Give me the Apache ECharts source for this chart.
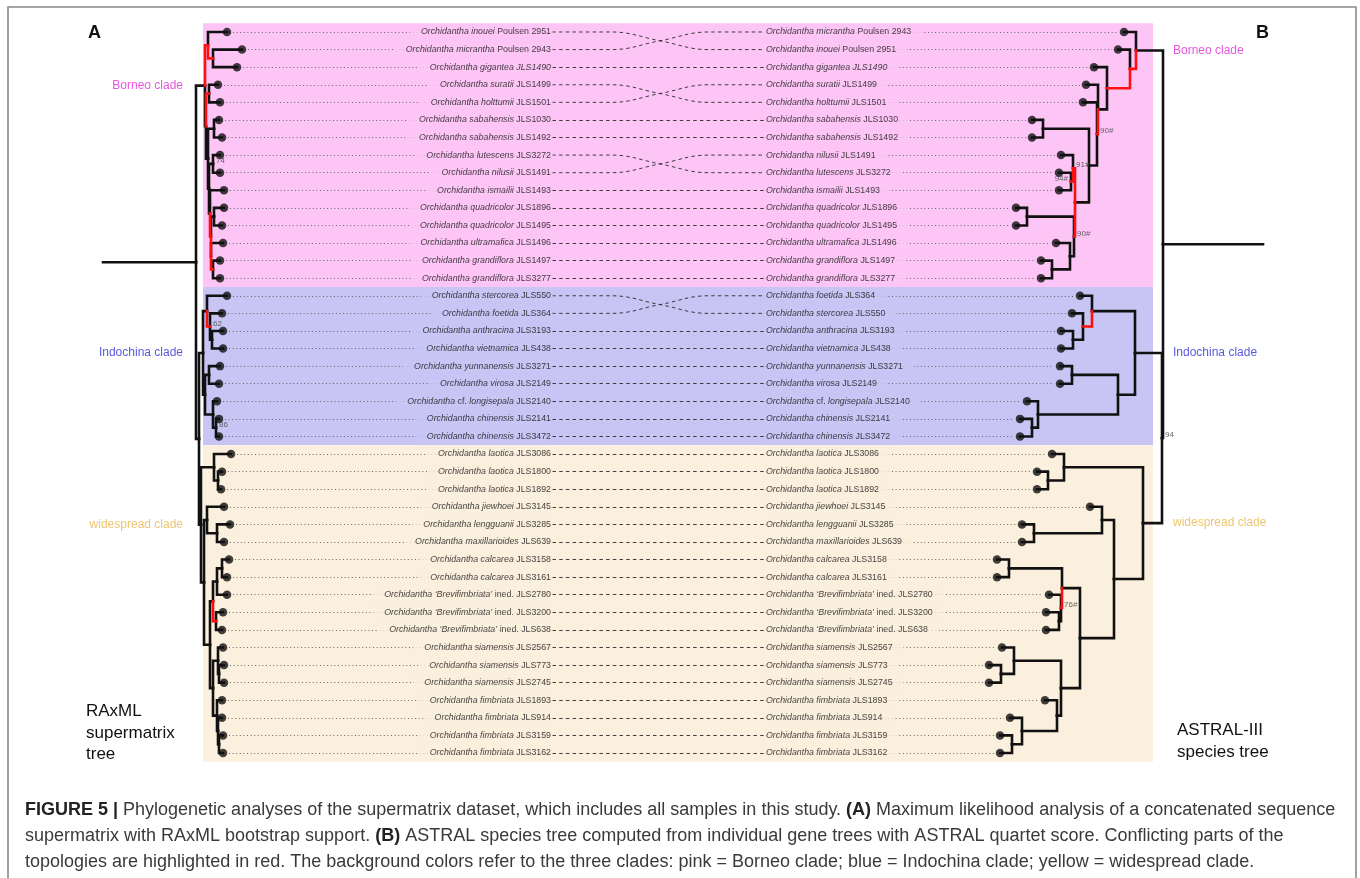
<!DOCTYPE html>
<html>
<head>
<meta charset="utf-8">
<script src="https://cdn.jsdelivr.net/npm/echarts@6/dist/echarts.min.js"></script>
<style>
html,body{margin:0;padding:0;background:#fff}
#chart{width:1360px;height:878px}
</style>
</head>
<body>
<div id="chart"></div>
<script>
// ---- Samples (text between * is set in italics) ----
const sampleKeys = ['ino','mic','gig','sur','hol','sab1030','sab1492','lut','nil','ism','qua1896','qua1495','ult','gra1497','gra3277',
  'ste','foe','ant','vie','yun','vir','lon','chi2141','chi3472',
  'lao3086','lao1800','lao1892','jie','len','max','cal3158','cal3161','bre2780','bre3200','bre638','sia2567','sia773','sia2745','fim1893','fim914','fim3159','fim3162'];
const sampleLabels = ['*Orchidantha inouei* Poulsen 2951','*Orchidantha micrantha* Poulsen 2943','*Orchidantha gigantea JLS1490*','*Orchidantha suratii* JLS1499','*Orchidantha holttumii* JLS1501',
  '*Orchidantha sabahensis* JLS1030','*Orchidantha sabahensis* JLS1492','*Orchidantha lutescens* JLS3272','*Orchidantha nilusii* JLS1491','*Orchidantha ismailii* JLS1493',
  '*Orchidantha quadricolor* JLS1896','*Orchidantha quadricolor* JLS1495','*Orchidantha ultramafica* JLS1496','*Orchidantha grandiflora* JLS1497','*Orchidantha grandiflora* JLS3277',
  '*Orchidantha stercorea* JLS550','*Orchidantha foetida* JLS364','*Orchidantha anthracina* JLS3193','*Orchidantha vietnamica* JLS438','*Orchidantha yunnanensis* JLS3271',
  '*Orchidantha virosa* JLS2149','*Orchidantha* cf. *longisepala* JLS2140','*Orchidantha chinensis* JLS2141','*Orchidantha chinensis* JLS3472',
  '*Orchidantha laotica* JLS3086','*Orchidantha laotica* JLS1800','*Orchidantha laotica* JLS1892','*Orchidantha jiewhoei* JLS3145','*Orchidantha lengguanii* JLS3285',
  '*Orchidantha maxillarioides* JLS639','*Orchidantha calcarea* JLS3158','*Orchidantha calcarea* JLS3161',
  '*Orchidantha \u2018Brevifimbriata\u2019* ined. JLS2780','*Orchidantha \u2018Brevifimbriata\u2019* ined. JLS3200','*Orchidantha \u2018Brevifimbriata\u2019* ined. JLS638',
  '*Orchidantha siamensis* JLS2567','*Orchidantha siamensis* JLS773','*Orchidantha siamensis* JLS2745',
  '*Orchidantha fimbriata* JLS1893','*Orchidantha fimbriata* JLS914','*Orchidantha fimbriata* JLS3159','*Orchidantha fimbriata* JLS3162'];

// ---- Clades (background bands) ----
const cladeNames = ['Borneo clade', 'Indochina clade', 'widespread clade'];
const cladeSizes = [15, 9, 18];
const cladeAnchorsLeft = ['B0', 'Ind', 'W'];
const cladeAnchorsRight = ['N0', 'Ind', 'W'];

// ---- Tip order of each tree (top to bottom) ----
const leftOrder = ['ino','mic','gig','sur','hol','sab1030','sab1492','lut','nil','ism','qua1896','qua1495','ult','gra1497','gra3277',
  'ste','foe','ant','vie','yun','vir','lon','chi2141','chi3472',
  'lao3086','lao1800','lao1892','jie','len','max','cal3158','cal3161','bre2780','bre3200','bre638','sia2567','sia773','sia2745','fim1893','fim914','fim3159','fim3162'];
const rightOrder = ['mic','ino','gig','sur','hol','sab1030','sab1492','nil','lut','ism','qua1896','qua1495','ult','gra1497','gra3277',
  'foe','ste','ant','vie','yun','vir','lon','chi2141','chi3472',
  'lao3086','lao1800','lao1892','jie','len','max','cal3158','cal3161','bre2780','bre3200','bre638','sia2567','sia773','sia2745','fim1893','fim914','fim3159','fim3162'];
// Right-hand row joined to each left-hand row by a connector
const linkRows = [1,0,2,4,3,5,6,8,7,9,10,11,12,13,14,16,15,17,18,19,20,21,22,23,
  24,25,26,27,28,29,30,31,32,33,34,35,36,37,38,39,40,41];

// ---- RAxML supermatrix tree (A): tip depths in left order, clades [id, depth, children, conflict] ----
const leftTipDepth = [31,46,41,22,24,23,26,24,24,28,28,26,27,24,24,
  31,26,27,27,24,23,21,23,23,
  35,26,25,28,34,28,33,31,31,27,26,27,28,28,26,26,27,27];
const leftClades = [
  ['MG',17,['mic','gig'],1], ['A',12,['ino','MG'],1],
  ['SH',13,['sur','hol'],1], ['SAB',18,['sab1030','sab1492'],0], ['LN',17,['lut','nil'],0],
  ['Q',18,['qua1896','qua1495'],0], ['G',17,['gra1497','gra3277'],1], ['R6',15,['ult','G'],1],
  ['R5',15,['Q','R6'],1], ['R4',14,['ism','R5'],0], ['R3',13,['LN','R4'],0], ['R2',12,['SAB','R3'],0],
  ['Brest',10,['SH','R2'],0], ['B0',9,['A','Brest'],0],
  ['AV',16,['ant','vie'],0], ['FAV',14,['foe','AV'],1], ['S1',11,['ste','FAV'],0],
  ['YV',13,['yun','vir'],0], ['CC',20,['chi2141','chi3472'],0], ['LC',17,['lon','CC'],0],
  ['YVLC',9,['YV','LC'],0], ['Ind',7,['S1','YVLC'],0],
  ['L2',22,['lao1800','lao1892'],0], ['L',18,['lao3086','L2'],0],
  ['LM',21,['len','max'],0], ['JLM',11,['jie','LM'],0],
  ['C',26,['cal3158','cal3161'],0], ['C2',21,['C','bre2780'],0], ['B2',20,['bre3200','bre638'],1], ['CB',17,['C2','B2'],0],
  ['S2',23,['sia773','sia2745'],0], ['SI',22,['sia2567','S2'],0],
  ['F3',23,['fim3159','fim3162'],0], ['F2',22,['fim914','F3'],0], ['FI',21,['fim1893','F2'],0],
  ['SF',17,['SI','FI'],0], ['CBSF',14,['CB','SF'],0], ['W2',8,['JLM','CBSF'],0], ['W',5,['L','W2'],0],
  ['IW',3,['Ind','W'],0], ['root',0,['B0','IW'],0]
];
const leftSupport = [['LN','74','right'], ['FAV','62','right'], ['CC','86','right']];

// ---- ASTRAL-III species tree (B) ----
const rightTipDepth = [39,45,69,77,80,131,131,102,104,104,147,147,107,122,122,
  83,91,102,102,103,103,136,143,143,
  111,126,126,73,141,141,166,166,114,117,117,161,174,174,118,153,163,163];
const rightClades = [
  ['SAB',120,['sab1030','sab1492'],0], ['LI',92,['lut','ism'],1], ['NL',90,['nil','LI'],1],
  ['Q',136,['qua1896','qua1495'],0], ['G',111,['gra1497','gra3277'],0], ['UG',93,['ult','G'],0],
  ['QUG',89,['Q','UG'],1], ['P',88,['NL','QUG'],0], ['S',74,['SAB','P'],0],
  ['H',66,['hol','S'],1], ['T',65,['sur','H'],0], ['N2',56,['gig','T'],1], ['N1',33,['ino','N2'],1], ['N0',27,['mic','N1'],0],
  ['AV',90,['ant','vie'],0], ['SAV',80,['ste','AV'],1], ['F',71,['foe','SAV'],0],
  ['YV',91,['yun','vir'],0], ['CC',131,['chi2141','chi3472'],0], ['LC',125,['lon','CC'],0],
  ['YVLC',45,['YV','LC'],0], ['Ind',28,['F','YVLC'],0],
  ['L2',115,['lao1800','lao1892'],0], ['L',99,['lao3086','L2'],0],
  ['LM',129,['len','max'],0], ['JLM',61,['jie','LM'],0],
  ['C',154,['cal3158','cal3161'],0], ['B2',104,['bre3200','bre638'],0], ['BR',102,['bre2780','B2'],1], ['CB',101,['C','BR'],0],
  ['S2',162,['sia773','sia2745'],0], ['SI',149,['sia2567','S2'],0],
  ['F3',151,['fim3159','fim3162'],0], ['F2',141,['fim914','F3'],0], ['FI',106,['fim1893','F2'],0],
  ['SF',102,['SI','FI'],0], ['CBSF',83,['CB','SF'],0], ['JC',49,['JLM','CBSF'],0], ['W',20,['L','JC'],0],
  ['IW',1,['Ind','W'],0], ['root',0,['N0','IW'],0]
];
const rightSupport = [['H','90#','right'], ['NL','91#','right'], ['LI','94#','left'], ['QUG','90#','right'], ['BR','76#','right'], ['IW','94','right']];

// ---- styling ----
const FONT = '"Liberation Sans", Arial, Helvetica, sans-serif';
const bandColors = ['#fdc5f6', '#c8c5f5', '#fbefdd'];
const cladeTextColors = ['#e22ad8', '#2e2ed6', '#e9b74a'];
const RED = '#ff1010', INK = '#111';
const NROWS = leftOrder.length;
const ROW_TOP = 23.2, ROW_H = 738.6;
const LEFT_LABEL_END = 551, RIGHT_LABEL_START = 766;
const BAND_X0 = 203, BAND_X1 = 1153;

const labelOf = {};
sampleKeys.forEach((k, i) => { labelOf[k] = sampleLabels[i]; });
function rich(s) {
  return s.split('*').map((seg, i) => seg ? '{' + (i % 2 ? 'i' : 'n') + '|' + seg + '}' : '').join('');
}
const bandOfRow = [];
cladeSizes.forEach((n, c) => { for (let i = 0; i < n; i++) bandOfRow.push(c); });

function layoutTree(order, tipDepth, clades) {
  const pos = {};
  order.forEach((k, i) => { pos[k] = { x: tipDepth[i], y: i, red: 0 }; });
  clades.forEach(([id, d, kids, red]) => {
    pos[id] = { x: d, y: (pos[kids[0]].y + pos[kids[kids.length - 1]].y) / 2, kids, red };
  });
  return pos;
}
function treeEdges(pos, clades, stemFrom) {
  const black = [], red = [];
  clades.forEach(([id, d, kids]) => {
    const p = pos[id];
    kids.forEach(k => {
      const c = pos[k];
      const item = { coords: [[p.x, p.y], [p.x, c.y], [c.x, c.y]] };
      (c.red ? red : black).push(item);
    });
  });
  const r = pos['root'];
  black.push({ coords: [[stemFrom, r.y], [r.x, r.y]] });
  return black.map(e => Object.assign(e, { lineStyle: { color: INK } }))
    .concat(red.map(e => Object.assign(e, { lineStyle: { color: RED } })));
}

const leftPos = layoutTree(leftOrder, leftTipDepth, leftClades);
const rightPos = layoutTree(rightOrder, rightTipDepth, rightClades);

const yAxisBase = { type: 'value', min: -0.5, max: NROWS - 0.5, inverse: true, show: false };
const chart = echarts.init(document.getElementById('chart'), null, { renderer: 'canvas' });

const richStyles = {
  i: { fontStyle: 'italic', fontSize: 8.8, fontFamily: FONT, color: '#141414' },
  n: { fontStyle: 'normal', fontSize: 8.8, fontFamily: FONT, color: '#141414' }
};

function supportSeries(pos, support, axisIdx) {
  return {
    type: 'scatter', xAxisIndex: axisIdx, yAxisIndex: axisIdx, z: 6, silent: true,
    symbolSize: 0, clip: false,
    data: support.map(([id, txt, side]) => ({
      value: [pos[id].x, pos[id].y],
      label: { show: true, formatter: txt, position: side, distance: 3, offset: [0, -3],
        fontSize: 8, fontFamily: FONT, color: '#444' }
    }))
  };
}

function treeSeries(pos, clades, order, tipDepth, axisIdx, stemFrom) {
  return [
    { type: 'lines', coordinateSystem: 'cartesian2d', xAxisIndex: axisIdx, yAxisIndex: axisIdx,
      polyline: true, z: 4, silent: true, clip: false,
      lineStyle: { width: 2.6, opacity: 1, cap: 'square', join: 'miter' },
      data: treeEdges(pos, clades, stemFrom) },
    { type: 'scatter', xAxisIndex: axisIdx, yAxisIndex: axisIdx, z: 5, silent: true, clip: false,
      symbol: 'circle', symbolSize: 8.5, itemStyle: { color: INK },
      data: order.map((k, i) => [tipDepth[i], i]) }
  ];
}

// connectors between the two label columns
const straightLinks = [], crossSeries = [];
linkRows.forEach((j, i) => {
  if (i === j) {
    straightLinks.push({ coords: [[LEFT_LABEL_END + 1.5, i], [RIGHT_LABEL_START - 2, i]] });
  } else {
    const m = (i + j) / 2;
    crossSeries.push({
      type: 'line', xAxisIndex: 2, yAxisIndex: 2, z: 2, silent: true, symbol: 'none', smooth: 0.4,
      lineStyle: { width: 0.9, color: '#2a2a2a', type: [3.5, 3.2] },
      data: [[LEFT_LABEL_END + 1.5, i], [612, i], [660, m], [708, j], [RIGHT_LABEL_START - 2, j]]
    });
  }
});

const captionRich = { b: { fontWeight: 'bold', fontSize: 18, fontFamily: FONT, fill: '#222' } };
const option = {
  animation: false,
  backgroundColor: '#ffffff',
  grid: [
    { left: 103, width: 147, top: ROW_TOP, height: ROW_H },
    { left: 960, width: 303, top: ROW_TOP, height: ROW_H },
    { left: 0, width: 1360, top: ROW_TOP, height: ROW_H }
  ],
  xAxis: [
    { gridIndex: 0, type: 'value', min: -93, max: 54, show: false },
    { gridIndex: 1, type: 'value', min: -100, max: 203, inverse: true, show: false },
    { gridIndex: 2, type: 'value', min: 0, max: 1360, show: false }
  ],
  yAxis: [
    Object.assign({ gridIndex: 0 }, yAxisBase),
    Object.assign({ gridIndex: 1 }, yAxisBase),
    Object.assign({ gridIndex: 2 }, yAxisBase)
  ],
  series: [
    // clade bands
    { type: 'custom', xAxisIndex: 2, yAxisIndex: 2, z: 0, silent: true, clip: false,
      data: cladeSizes.map((n, c) => {
        const start = cladeSizes.slice(0, c).reduce((a, b) => a + b, 0) - 0.5;
        return [c, start, start + n];
      }),
      renderItem: (params, api) => {
        const p0 = api.coord([BAND_X0, api.value(1)]);
        const p1 = api.coord([BAND_X1, api.value(2)]);
        return { type: 'rect', shape: { x: p0[0], y: p0[1], width: p1[0] - p0[0], height: p1[1] - p0[1] },
          style: { fill: bandColors[api.value(0)] } };
      }
    },
    // straight connectors
    { type: 'lines', coordinateSystem: 'cartesian2d', xAxisIndex: 2, yAxisIndex: 2, z: 2, silent: true,
      lineStyle: { width: 0.9, color: '#2a2a2a', type: [3.5, 3.2], opacity: 1 }, data: straightLinks },
    ...crossSeries,
    ...treeSeries(leftPos, leftClades, leftOrder, leftTipDepth, 0, -93),
    ...treeSeries(rightPos, rightClades, rightOrder, rightTipDepth, 1, -100),
    supportSeries(leftPos, leftSupport, 0),
    supportSeries(rightPos, rightSupport, 1),
    // left labels
    { type: 'scatter', xAxisIndex: 2, yAxisIndex: 2, z: 7, silent: true, symbolSize: 0,
      data: leftOrder.map((k, i) => ({ value: [LEFT_LABEL_END, i],
        label: { show: true, position: 'left', distance: 0, formatter: rich(labelOf[k]), rich: richStyles,
          backgroundColor: bandColors[bandOfRow[i]], padding: [1, 0, 1, 11] } })) },
    // right labels
    { type: 'scatter', xAxisIndex: 2, yAxisIndex: 2, z: 7, silent: true, symbolSize: 0,
      data: rightOrder.map((k, i) => ({ value: [RIGHT_LABEL_START, i],
        label: { show: true, position: 'right', distance: 0, formatter: rich(labelOf[k]), rich: richStyles,
          backgroundColor: bandColors[bandOfRow[i]], padding: [1, 11, 1, 0] } })) },
    // clade names beside each tree
    { type: 'scatter', xAxisIndex: 2, yAxisIndex: 2, z: 7, silent: true, symbolSize: 0,
      data: cladeAnchorsLeft.map((id, c) => ({ value: [183, leftPos[id].y],
        label: { show: true, position: 'left', distance: 0, formatter: cladeNames[c],
          fontSize: 12, fontFamily: FONT, color: cladeTextColors[c] } }))
        .concat(cladeAnchorsRight.map((id, c) => ({ value: [1173, rightPos[id].y],
        label: { show: true, position: 'right', distance: 0, formatter: cladeNames[c],
          fontSize: 12, fontFamily: FONT, color: cladeTextColors[c] } }))) }
  ],
  graphic: [
    { type: 'rect', shape: { x: 8, y: 7, width: 1348, height: 900 }, style: { fill: 'none', stroke: '#8a8a8a', lineWidth: 1.6 }, z: 0 },
    { type: 'text', left: 88, top: 24, style: { text: 'A', font: 'bold 18px ' + FONT, fill: '#111' } },
    { type: 'text', left: 1256, top: 24, style: { text: 'B', font: 'bold 18px ' + FONT, fill: '#111' } },
    { type: 'text', left: 86, top: 701, style: { text: 'RAxML\nsupermatrix\ntree', font: '17px ' + FONT, fill: '#111', lineHeight: 21.5 } },
    { type: 'text', left: 1177, top: 719, style: { text: 'ASTRAL-III\nspecies tree', font: '17px ' + FONT, fill: '#111', lineHeight: 22 } },
    { type: 'text', left: 25, top: 801, style: {
        text: '{b|FIGURE 5 |} Phylogenetic analyses of the supermatrix dataset, which includes all samples in this study. {b|(A)} Maximum likelihood analysis of a concatenated sequence',
        rich: captionRich, font: '18px ' + FONT, fill: '#3a3a3a' } },
    { type: 'text', left: 25, top: 827, style: {
        text: 'supermatrix with RAxML bootstrap support. {b|(B)} ASTRAL species tree computed from individual gene trees with ASTRAL quartet score. Conflicting parts of the',
        rich: captionRich, font: '18px ' + FONT, fill: '#3a3a3a' } },
    { type: 'text', left: 25, top: 853, style: {
        text: 'topologies are highlighted in red. The background colors refer to the three clades: pink = Borneo clade; blue = Indochina clade; yellow = widespread clade.',
        font: '18px ' + FONT, fill: '#3a3a3a' } }
  ]
};
chart.setOption(option);

// dotted leaders from each tip to its label, placed through the tree axes
const leftDots = leftOrder.map((k, i) => {
  const px = chart.convertToPixel({ xAxisIndex: 0, yAxisIndex: 0 }, [leftTipDepth[i], i]);
  return { coords: [[px[0] + 6, i], [LEFT_LABEL_END, i]] };
});
const rightDots = rightOrder.map((k, i) => {
  const px = chart.convertToPixel({ xAxisIndex: 1, yAxisIndex: 1 }, [rightTipDepth[i], i]);
  return { coords: [[RIGHT_LABEL_START, i], [px[0] - 6, i]] };
});
const series = option.series.concat([
  { type: 'lines', coordinateSystem: 'cartesian2d', xAxisIndex: 2, yAxisIndex: 2, z: 1, silent: true,
    lineStyle: { width: 1, color: '#666', type: [1, 2.6], opacity: 1 }, data: leftDots.concat(rightDots) }
]);
chart.setOption({ series: series });
</script>
</body>
</html>
